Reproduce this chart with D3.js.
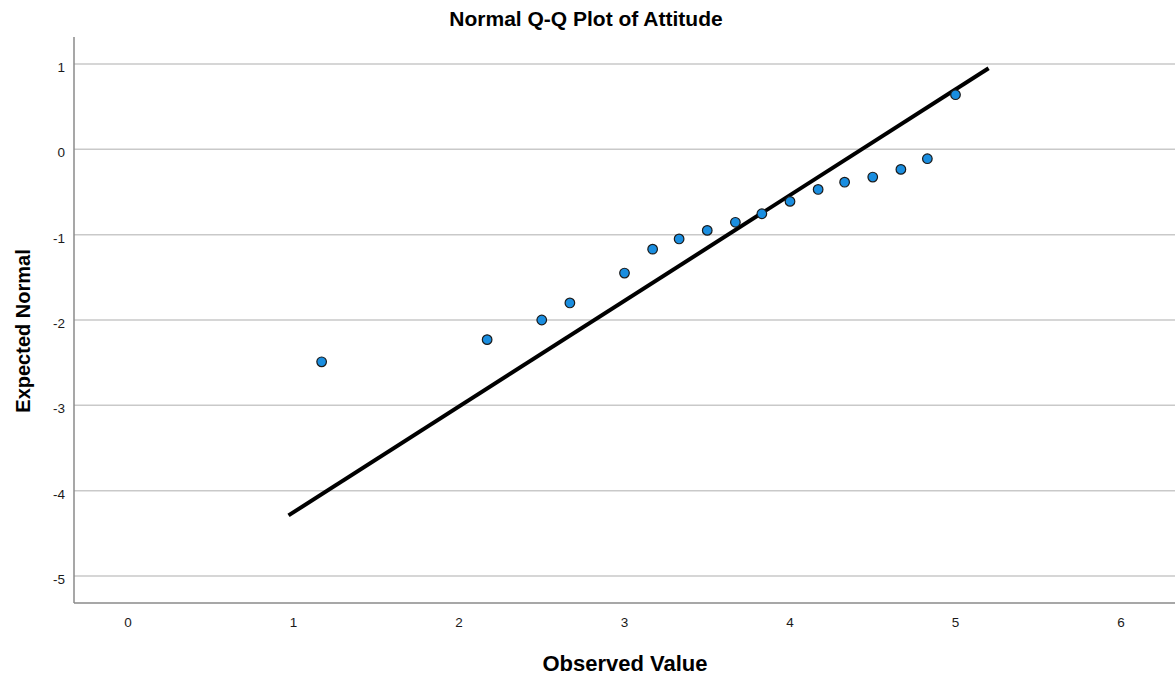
<!DOCTYPE html>
<html>
<head>
<meta charset="utf-8">
<script src="https://cdn.jsdelivr.net/npm/d3@7"></script>
<style>
  body { margin: 0; background: #fff; }
  text { font-family: "Liberation Sans", Arial, sans-serif; }
  .tick-label { font-size: 13.5px; fill: #1a1a1a; }
</style>
</head>
<body>
<div id="chart"></div>
<script>
// observed values and their expected normal scores
const observed = [1.17, 2.17, 2.5, 2.67, 3, 3.17, 3.33, 3.5, 3.67, 3.83, 4, 4.17, 4.33, 4.5, 4.67, 4.83, 5];
const expected = [-2.49, -2.23, -2.0, -1.8, -1.45, -1.17, -1.05, -0.95, -0.855, -0.755, -0.61, -0.47, -0.385, -0.325, -0.235, -0.11, 0.64];

// reference line end points
const lineX = [0.97, 5.2];
const lineY = [-4.29, 0.95];

const xTicks = [0, 1, 2, 3, 4, 5, 6];
const yTicks = [1, 0, -1, -2, -3, -4, -5];

const W = 1175, H = 678;
const plot = {left: 74, right: 1175, top: 37, bottom: 603};

var svg = d3.select('#chart')
  .append('svg')
  .attr('width', W)
  .attr('height', H);

var x = d3.scaleLinear()
  .domain([0, 6])
  .range([128, 1121]);

var y = d3.scaleLinear()
  .domain([-5, 1])
  .range([576, 64]);

// gridlines
svg.append('g')
  .selectAll('line')
  .data(yTicks)
  .enter()
  .append('line')
  .attr('x1', plot.left)
  .attr('x2', plot.right)
  .attr('y1', d => y(d))
  .attr('y2', d => y(d))
  .attr('stroke', '#c9c9c9')
  .attr('stroke-width', 1.5);

// axes lines
svg.append('line')
  .attr('x1', plot.left).attr('x2', plot.left)
  .attr('y1', plot.top).attr('y2', plot.bottom)
  .attr('stroke', '#8a8a8a').attr('stroke-width', 1.5);
svg.append('line')
  .attr('x1', plot.left).attr('x2', plot.right)
  .attr('y1', plot.bottom).attr('y2', plot.bottom)
  .attr('stroke', '#8a8a8a').attr('stroke-width', 1.5);

// tick labels
svg.append('g')
  .selectAll('text')
  .data(yTicks)
  .enter()
  .append('text')
  .attr('class', 'tick-label')
  .attr('x', 65)
  .attr('y', d => y(d) + 8)
  .attr('text-anchor', 'end')
  .text(d => d);

svg.append('g')
  .selectAll('text')
  .data(xTicks)
  .enter()
  .append('text')
  .attr('class', 'tick-label')
  .attr('x', d => x(d))
  .attr('y', 627)
  .attr('text-anchor', 'middle')
  .text(d => d);

// reference line
svg.append('line')
  .attr('x1', x(lineX[0])).attr('y1', y(lineY[0]))
  .attr('x2', x(lineX[1])).attr('y2', y(lineY[1]))
  .attr('stroke', '#000')
  .attr('stroke-width', 4);

// points
svg.append('g')
  .selectAll('circle')
  .data(observed)
  .enter()
  .append('circle')
  .attr('cx', d => x(d))
  .attr('cy', (d, i) => y(expected[i]))
  .attr('r', 4.8)
  .attr('fill', '#1a8ee0')
  .attr('stroke', '#1a1a1a')
  .attr('stroke-width', 1.2);

// titles
svg.append('text')
  .attr('x', 586)
  .attr('y', 26)
  .attr('text-anchor', 'middle')
  .style('font-size', '21px')
  .style('font-weight', 'bold')
  .text('Normal Q-Q Plot of Attitude');

svg.append('text')
  .attr('x', 625)
  .attr('y', 671)
  .attr('text-anchor', 'middle')
  .style('font-size', '22px')
  .style('font-weight', 'bold')
  .text('Observed Value');

svg.append('text')
  .attr('transform', 'translate(30,331) rotate(-90)')
  .attr('text-anchor', 'middle')
  .style('font-size', '20px')
  .style('font-weight', 'bold')
  .text('Expected Normal');
</script>
</body>
</html>
